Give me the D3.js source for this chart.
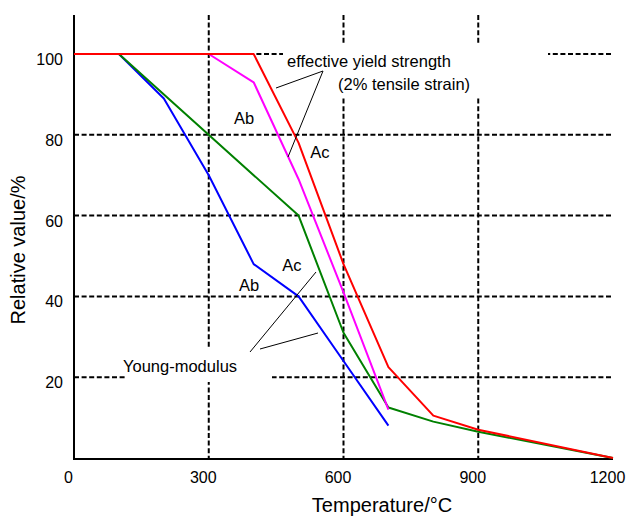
<!DOCTYPE html>
<html>
<head>
<meta charset="utf-8">
<script src="https://cdn.jsdelivr.net/npm/d3@7"></script>
<style>
  body { margin: 0; background: #fff; }
  svg { font-family: "Liberation Sans", Arial, sans-serif; }
</style>
</head>
<body>
<svg id="chart" width="628" height="518"></svg>
<script>
// temperature (°C) / relative value (%)
const xTicks = [0, 300, 600, 900, 1200];
const yTicks = [20, 40, 60, 80, 100];

const yieldAcT = [0, 400, 500, 600, 700, 800, 900, 1200];
const yieldAcV = [100, 100, 78, 48, 22.5, 10.5, 7, 0];

const yieldAbT = [0, 300, 400, 500, 600, 700];
const yieldAbV = [100, 100, 93, 69, 41, 12];

const youngAcT = [0, 100, 500, 600, 700, 800, 900, 1200];
const youngAcV = [100, 100, 60, 31, 12.5, 9, 6.5, 0];

const youngAbT = [0, 100, 200, 300, 400, 500, 600, 700];
const youngAbV = [100, 100, 89, 70, 48, 40, 24, 8];

const series = [
    { name: 'Young Ab', t: youngAbT, v: youngAbV, color: '#0000ff' },
    { name: 'Young Ac', t: youngAcT, v: youngAcV, color: '#008000' },
    { name: 'Yield Ab', t: yieldAbT, v: yieldAbV, color: '#ff00ff' },
    { name: 'Yield Ac', t: yieldAcT, v: yieldAcV, color: '#ff0000' }
];

const svg = d3.select('#chart');
const x = d3.scaleLinear().domain([0, 1200]).range([74, 613]);
const y = d3.scaleLinear().domain([0, 100]).range([458, 54]);
const axisTop = 15, axisY = 459;

// dashed grid
const grid = svg.append('g')
    .attr('stroke', '#000').attr('stroke-width', 2).attr('stroke-dasharray', '5,2.6');
grid.selectAll('line.h').data(yTicks).enter().append('line')
    .attr('x1', x(0)).attr('x2', x(1200))
    .attr('y1', d => y(d)).attr('y2', d => y(d));
grid.selectAll('line.v').data(xTicks.slice(1, 4)).enter().append('line')
    .attr('x1', d => x(d)).attr('x2', d => x(d))
    .attr('y1', axisTop).attr('y2', axisY);

// white boxes behind the annotations
svg.append('rect').attr('x', 283).attr('y', 45).attr('width', 265).attr('height', 51).attr('fill', '#fff');
svg.append('rect').attr('x', 127).attr('y', 348).attr('width', 145).attr('height', 34).attr('fill', '#fff');

// axes
svg.append('path')
    .attr('d', `M${x(0)},${axisTop}V${axisY}H${x(1200)}`)
    .attr('fill', 'none').attr('stroke', '#000').attr('stroke-width', 2);

const xAxis = svg.append('g')
    .attr('transform', `translate(0,${axisY})`)
    .call(d3.axisBottom(x).tickValues(xTicks).tickSize(0).tickFormat(d3.format('d')));
xAxis.select('.domain').remove();
xAxis.attr('font-family', null).attr('font-size', 16);
xAxis.selectAll('text')
    .attr('y', 24).attr('dy', 0).attr('dx', -6)
    .attr('fill', '#000');

const yAxis = svg.append('g')
    .attr('transform', `translate(${x(0)},0)`)
    .call(d3.axisLeft(y).tickValues(yTicks).tickSize(0).tickPadding(11));
yAxis.select('.domain').remove();
yAxis.attr('font-family', null).attr('font-size', 16);
yAxis.selectAll('text')
    .attr('dy', 10.5)
    .attr('fill', '#000');

// curves
const line = d3.line().x(d => x(d[0])).y(d => y(d[1]));
svg.append('g').selectAll('path').data(series).enter().append('path')
    .attr('d', s => line(s.t.map((t, i) => [t, s.v[i]])))
    .attr('fill', 'none')
    .attr('stroke', s => s.color)
    .attr('stroke-width', 2)
    .attr('stroke-linejoin', 'round');

// leader lines
const leaders = [
    [323, 71, 276, 88], [323, 71, 288, 157],
    [250, 352, 316, 272], [260, 349, 318, 333]
];
svg.append('g').selectAll('line').data(leaders).enter().append('line')
    .attr('x1', d => d[0]).attr('y1', d => d[1])
    .attr('x2', d => d[2]).attr('y2', d => d[3])
    .attr('stroke', '#000').attr('stroke-width', 1);

// annotation texts
const notes = [
    ['effective yield strength', 287, 67, 'start'],
    ['(2% tensile strain)', 338, 90, 'start'],
    ['Ab', 244, 124, 'middle'],
    ['Ac', 320, 158, 'middle'],
    ['Ac', 292, 271, 'middle'],
    ['Ab', 249, 291, 'middle'],
    ['Young-modulus', 123, 372, 'start']
];
svg.append('g').selectAll('text').data(notes).enter().append('text')
    .attr('x', d => d[1]).attr('y', d => d[2])
    .attr('text-anchor', d => d[3])
    .attr('font-size', 16.5)
    .text(d => d[0]);

// axis titles
svg.append('text')
    .attr('x', 382).attr('y', 512)
    .attr('text-anchor', 'middle').attr('font-size', 20)
    .text('Temperature/°C');
svg.append('text')
    .attr('transform', 'translate(25,250) rotate(-90)')
    .attr('text-anchor', 'middle').attr('font-size', 20)
    .text('Relative value/%');
</script>
</body>
</html>
